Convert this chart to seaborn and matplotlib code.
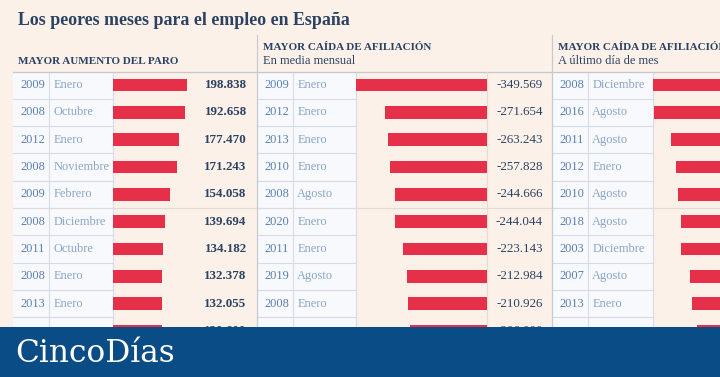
import matplotlib
matplotlib.use("Agg")
import matplotlib.pyplot as plt
import seaborn as sns
from matplotlib.patches import Rectangle

# Tabla 1: mayor aumento del paro
paro_anios = ["2009", "2008", "2012", "2008", "2009", "2008", "2011", "2008", "2013", ""]
paro_meses = ["Enero", "Octubre", "Enero", "Noviembre", "Febrero", "Diciembre", "Octubre", "Enero", "Enero", ""]
paro_valores = [198838, 192658, 177470, 171243, 154058, 139694, 134182, 132378, 132055, 130600]

# Tabla 2: mayor caida de afiliacion, media mensual
media_anios = ["2009", "2012", "2013", "2010", "2008", "2020", "2011", "2019", "2008", ""]
media_meses = ["Enero", "Enero", "Enero", "Enero", "Agosto", "Enero", "Enero", "Agosto", "Enero", ""]
media_valores = [-349569, -271654, -263243, -257828, -244666, -244044, -223143, -212984, -210926, -206000]

# Tabla 3: mayor caida de afiliacion, ultimo dia de mes (valores cortados en la imagen, estimados)
ultimo_anios = ["2008", "2016", "2011", "2012", "2010", "2018", "2003", "2007", "2013", ""]
ultimo_meses = ["Diciembre", "Agosto", "Agosto", "Enero", "Agosto", "Agosto", "Diciembre", "Agosto", "Enero", ""]
ultimo_valores = [-361000, -358000, -310600, -296800, -292000, -282500, -282000, -258000, -252700, -239000]

BG = "#fcf1e9"
CELL = "#f7f9fd"
RED = "#e6304a"
NAVY = "#2b4262"
YEAR_C = "#5a80b1"
MONTH_C = "#8ba5c6"
GRID = "#d6dce6"
BANNER = "#0a4c86"
SERIF = ["Liberation Serif", "DejaVu Serif"]

W, H = 720, 377
TOP, ROW_H, N = 71.5, 27.3, 10

fig = plt.figure(figsize=(7.2, 3.77), dpi=100, facecolor=BG)
bg = fig.add_axes([0, 0, 1, 1])
bg.set_xlim(0, W)
bg.set_ylim(H, 0)
bg.set_axis_off()


def fila_y(i):
    return TOP + ROW_H * (i + 0.5)


def miles(v):
    return f"{v:,}".replace(",", ".")


def panel(anios, meses, valores, cell_x0, div_x, cell_x1, bar_x1, value_x, weight):
    # celdas de año y mes
    bg.add_patch(Rectangle((cell_x0, TOP), cell_x1 - cell_x0, ROW_H * N, color=CELL, lw=0))
    for k in range(1, N + 1):
        bg.plot([cell_x0, cell_x1], [TOP + k * ROW_H] * 2, color=GRID, lw=0.8)
    for x in (div_x, cell_x1):
        bg.plot([x, x], [TOP, H], color=GRID, lw=0.8)
    for i in range(N):
        y = fila_y(i)
        bg.text(cell_x0 + 7.3, y, anios[i], color=YEAR_C, fontsize=8.9, family=SERIF, va="center")
        bg.text(div_x + 4, y, meses[i], color=MONTH_C, fontsize=8.9, family=SERIF, va="center")
        if value_x is not None:
            bg.text(value_x, y, miles(valores[i]), color=NAVY, fontsize=9.4, family=SERIF,
                    weight=weight, ha="right", va="center")

    # barras
    ax = fig.add_axes([cell_x1 / W, 1 - (TOP + ROW_H * N) / H, (bar_x1 - cell_x1) / W, ROW_H * N / H])
    sns.barplot(x=valores, y=list(range(N)), orient="h", color=RED, saturation=1, width=0.465, ax=ax)
    if min(valores) < 0:
        ax.set_xlim(min(valores), 0)
    else:
        ax.set_xlim(0, max(valores))
    ax.set_ylim(N - 0.5, -0.5)
    ax.set_axis_off()


panel(paro_anios, paro_meses, paro_valores, 12.7, 49.3, 112.7, 187.3, 246.7, "bold")
panel(media_anios, media_meses, media_valores, 256.7, 293.3, 356, 486.7, 542.7, "normal")
panel(ultimo_anios, ultimo_meses, ultimo_valores, 552.3, 588.3, 652.7, 783.7, None, "normal")

# lineas de estructura
bg.plot([12.7, W], [TOP, TOP], color="#c3c8d0", lw=0.9)
bg.plot([12.7, W], [TOP + 5 * ROW_H] * 2, color="#e0dbd6", lw=0.8)
for x in (256.7, 552.3):
    bg.plot([x, x], [35, H], color="#c6cad2", lw=0.9)
bg.plot([486.7, 486.7], [TOP, H], color="#e6dcd4", lw=0.8)

# titulos
bg.text(18.3, 25, "Los peores meses para el empleo en España", color=NAVY, fontsize=12.9,
        family=SERIF, weight="bold", va="baseline")
bg.text(18.3, 64.3, "MAYOR AUMENTO DEL PARO", color=NAVY, fontsize=8.0, family=SERIF,
        weight="bold", va="baseline")
for x0, sub in ((262.7, "En media mensual"), (558.3, "A último día de mes")):
    bg.text(x0, 50, "MAYOR CAÍDA DE AFILIACIÓN", color=NAVY, fontsize=8.0, family=SERIF,
            weight="bold", va="baseline")
    bg.text(x0, 64.3, sub, color=NAVY, fontsize=9.0, family=SERIF, va="baseline")

# faja inferior con la marca
fig.add_artist(Rectangle((0, 0), 1, (H - 326.7) / H, transform=fig.transFigure,
                         color=BANNER, lw=0, zorder=5))
fig.text(15 / W, 1 - 361.7 / H, "CincoDías", color="white", fontsize=22.5,
         family=["DejaVu Serif"], va="baseline", zorder=6)

fig.savefig("out.png", dpi=100, facecolor=BG)
